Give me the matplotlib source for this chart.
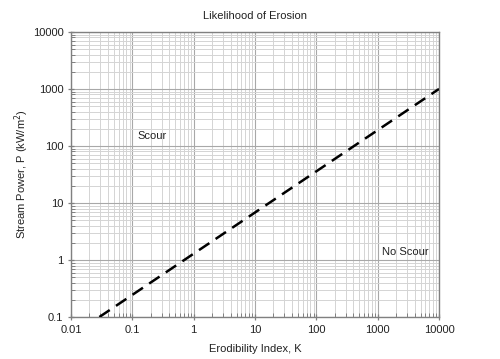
import matplotlib
matplotlib.use('Agg')
import matplotlib.pyplot as plt
from matplotlib.ticker import LogLocator, FixedLocator, FixedFormatter, NullFormatter

plt.rcParams.update({'font.family': ['Liberation Sans', 'DejaVu Sans'], 'font.size': 8})

# threshold line (erodibility index vs stream power)
K = [0.029, 10000]
P = [0.1, 1000]

x_ticks = [0.01, 0.1, 1, 10, 100, 1000, 10000]
x_labels = ['0.01', '0.1', '1', '10', '100', '1000', '10000']
y_ticks = [0.1, 1, 10, 100, 1000, 10000]
y_labels = ['0.1', '1', '10', '100', '1000', '10000']

fig = plt.figure(figsize=(5, 3.59), dpi=100)
ax = fig.add_axes([0.142, 0.117, 0.736, 0.794])
ax.set_xscale('log'); ax.set_yscale('log')
ax.set_xlim(0.01, 10000); ax.set_ylim(0.1, 10000)

ax.plot(K, P, color='black', lw=1.8, dashes=(5, 3), zorder=3)

ax.xaxis.set_major_locator(FixedLocator(x_ticks))
ax.xaxis.set_major_formatter(FixedFormatter(x_labels))
ax.yaxis.set_major_locator(FixedLocator(y_ticks))
ax.yaxis.set_major_formatter(FixedFormatter(y_labels))
ax.xaxis.set_minor_locator(LogLocator(base=10, subs=range(2, 10), numticks=20))
ax.yaxis.set_minor_locator(LogLocator(base=10, subs=range(2, 10), numticks=20))
ax.xaxis.set_minor_formatter(NullFormatter())
ax.yaxis.set_minor_formatter(NullFormatter())

ax.grid(which='major', color='#a8a8a8', lw=0.8)
ax.grid(which='minor', color='#d4d4d4', lw=0.7)
ax.set_axisbelow(True)

for s in ax.spines.values():
    s.set_color('#808080'); s.set_linewidth(1.0)
ax.tick_params(which='major', direction='inout', length=5, width=0.9, color='#808080',
               labelcolor='#222222', pad=3, labelsize=8)
ax.tick_params(which='minor', direction='in', length=3, width=0.7, color='#808080')

ax.set_title('Likelihood of Erosion', fontsize=8, color='#222222', pad=9)
ax.set_xlabel('Erodibility Index, K', fontsize=8, color='#222222', labelpad=7)
ax.set_ylabel('Stream Power, P (kW/m$^2$)', fontsize=8, color='#222222', labelpad=1)

ax.text(0.12, 150, 'Scour', fontsize=8, va='center', ha='left', color='#222222')
ax.text(1175, 1.38, 'No Scour', fontsize=8, va='center', ha='left', color='#222222')

fig.savefig('out.png', dpi=100)
